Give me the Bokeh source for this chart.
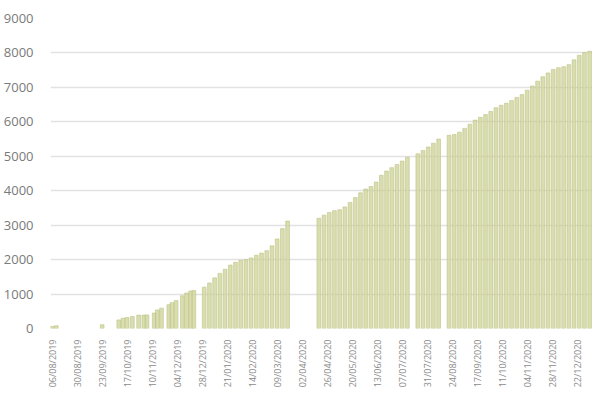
import pandas as pd
from bokeh.plotting import figure
from bokeh.models import ColumnDataSource, Range1d, FixedTicker, DatetimeTickFormatter, SingleIntervalTicker
from bokeh.embed import file_html
from bokeh.resources import INLINE
from math import pi

# ---- data ----
dates = [
    "2019-08-06", "2019-08-10",
    "2019-09-23",
    "2019-10-09", "2019-10-13", "2019-10-17", "2019-10-22", "2019-10-28", "2019-11-02", "2019-11-05",
    "2019-11-12", "2019-11-15", "2019-11-19", "2019-11-26", "2019-11-29", "2019-12-03", "2019-12-09",
    "2019-12-13", "2019-12-17", "2019-12-20",
    "2019-12-30", "2020-01-04", "2020-01-09", "2020-01-14", "2020-01-19", "2020-01-24", "2020-01-29",
    "2020-02-03", "2020-02-08", "2020-02-13", "2020-02-18", "2020-02-23", "2020-02-28", "2020-03-04",
    "2020-03-09", "2020-03-14", "2020-03-19",
    "2020-04-18", "2020-04-23", "2020-04-28", "2020-05-03", "2020-05-08", "2020-05-13", "2020-05-18",
    "2020-05-23", "2020-05-28", "2020-06-02", "2020-06-07", "2020-06-12", "2020-06-17", "2020-06-22",
    "2020-06-27", "2020-07-02", "2020-07-07", "2020-07-12", "2020-07-22", "2020-07-27", "2020-08-01",
    "2020-08-06", "2020-08-11", "2020-08-21", "2020-08-26", "2020-08-31", "2020-09-05", "2020-09-10",
    "2020-09-15", "2020-09-20", "2020-09-25", "2020-09-30", "2020-10-05", "2020-10-10", "2020-10-15",
    "2020-10-20", "2020-10-25", "2020-10-30", "2020-11-04", "2020-11-09", "2020-11-14", "2020-11-19",
    "2020-11-24", "2020-11-29", "2020-12-04", "2020-12-09", "2020-12-14", "2020-12-19", "2020-12-24",
    "2020-12-29", "2021-01-03",
]
values = [
    60, 80,
    110,
    250, 300, 320, 345, 390, 390, 395,
    450, 540, 590, 690, 750, 810, 950,
    1030, 1090, 1100,
    1200, 1320, 1470, 1600, 1720, 1840, 1920,
    1980, 2000, 2050, 2130, 2190, 2260, 2400,
    2600, 2900, 3120,
    3200, 3290, 3370, 3420, 3450, 3530, 3660,
    3800, 3940, 4050, 4120, 4250, 4450, 4570,
    4670, 4760, 4860, 4970, 5070, 5170, 5270,
    5380, 5500, 5610, 5630, 5700, 5810, 5930,
    6050, 6130, 6210, 6300, 6410, 6480, 6540,
    6620, 6710, 6790, 6920, 7040, 7180, 7310,
    7420, 7520, 7570, 7600, 7660, 7800, 7930,
    8010, 8050,
]
tick_labels = [
    "06/08/2019", "30/08/2019", "23/09/2019", "17/10/2019", "10/11/2019", "04/12/2019",
    "28/12/2019", "21/01/2020", "14/02/2020", "09/03/2020", "02/04/2020", "26/04/2020",
    "20/05/2020", "13/06/2020", "07/07/2020", "31/07/2020", "24/08/2020", "17/09/2020",
    "11/10/2020", "04/11/2020", "28/11/2020", "22/12/2020",
]
x_start = "2019-08-04 10:00"
x_end = "2021-01-05 17:00"

# ---- build ----
src = ColumnDataSource(dict(date=pd.to_datetime(dates), value=values))
DAY_MS = 86400000

p = figure(width=592, height=400, output_backend="svg", toolbar_location=None,
           x_axis_type="datetime",
           x_range=Range1d(pd.Timestamp(x_start), pd.Timestamp(x_end)),
           y_range=Range1d(0, 9000),
           min_border_left=50, min_border_right=0, min_border_top=18, min_border_bottom=72)
p.outline_line_color = None
p.background_fill_color = "white"
p.border_fill_color = "white"

p.vbar(x="date", top="value", width=3.6 * DAY_MS, source=src,
       fill_color="#d0d59c", fill_alpha=0.8, line_color="#bac07c", line_alpha=0.9, line_width=0.6)

tick_ms = [pd.Timestamp(t).timestamp() * 1000 for t in pd.to_datetime(tick_labels, format="%d/%m/%Y")]
p.xaxis.ticker = FixedTicker(ticks=tick_ms)
fmt = "%d/%m/%Y"
p.xaxis.formatter = DatetimeTickFormatter(days=fmt, months=fmt, years=fmt, hours=fmt,
                                          minutes=fmt, seconds=fmt, milliseconds=fmt,
                                          minsec=fmt, hourmin=fmt)
p.xaxis.major_label_orientation = pi / 2
p.xaxis.major_label_text_font = "Open Sans"
p.xaxis.major_label_text_font_size = "9px"
p.xaxis.major_label_text_color = "#8a8a8a"
p.xaxis.major_label_standoff = 5
p.xaxis.axis_line_color = None
p.xaxis.major_tick_line_color = None
p.xaxis.minor_tick_line_color = None

p.yaxis.ticker = SingleIntervalTicker(interval=1000)
p.yaxis.major_label_text_font = "Open Sans"
p.yaxis.major_label_text_font_size = "13px"
p.yaxis.major_label_text_color = "#7a7a7a"
p.yaxis.major_label_standoff = 11
p.yaxis.axis_line_color = None
p.yaxis.major_tick_line_color = None
p.yaxis.minor_tick_line_color = None

p.xgrid.grid_line_color = None
p.ygrid.ticker = SingleIntervalTicker(interval=1000)
p.ygrid.grid_line_color = "#e2e2e2"
p.ygrid.grid_line_width = 1.5

open("out.html", "w").write(file_html(p, INLINE))
